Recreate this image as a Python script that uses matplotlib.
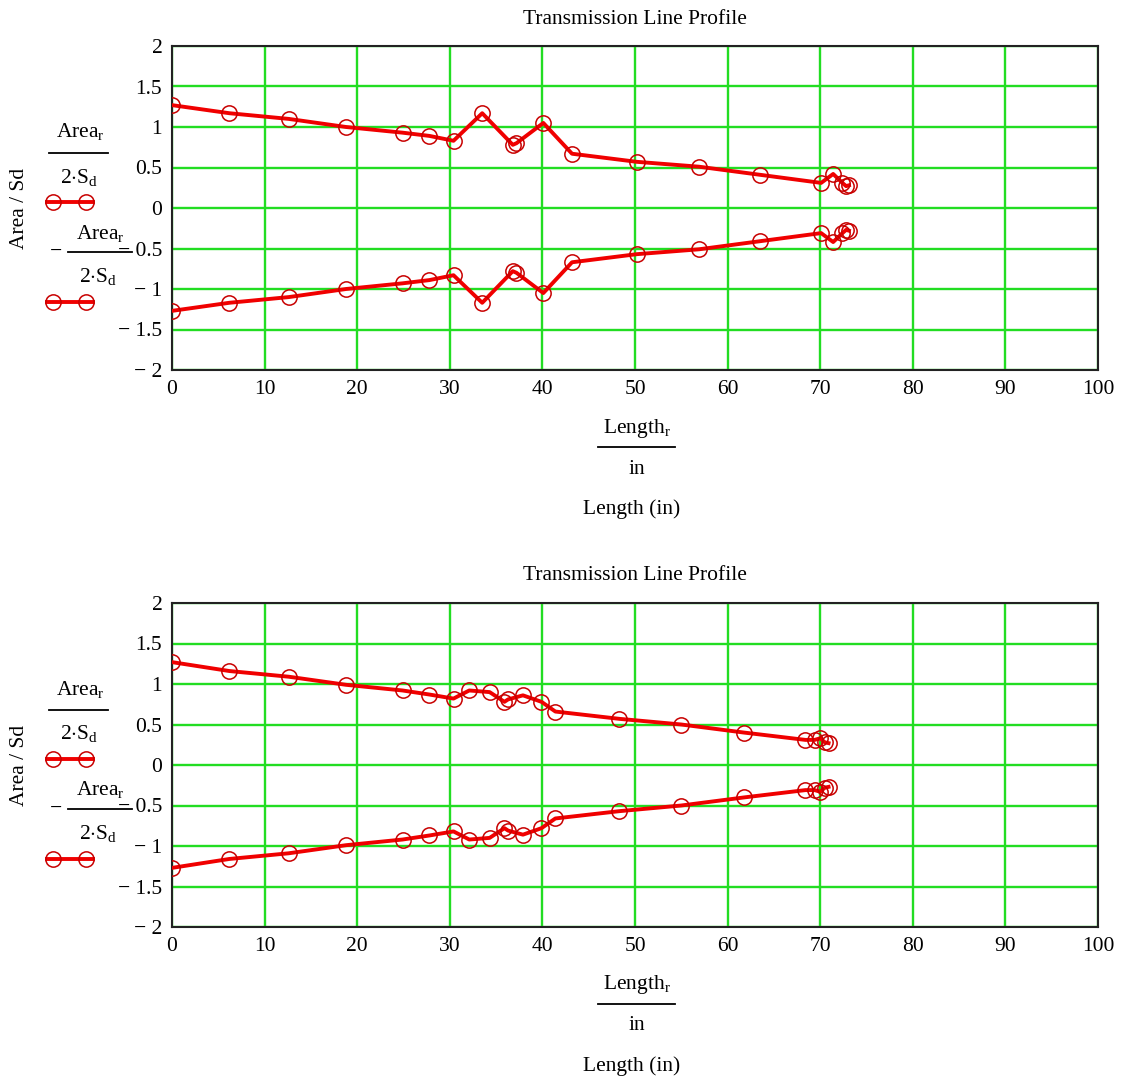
import matplotlib
matplotlib.use("Agg")
import matplotlib.pyplot as plt
from matplotlib.lines import Line2D
import numpy as np

plt.rcParams["font.family"] = ["Liberation Serif", "DejaVu Serif"]
plt.rcParams["mathtext.fontset"] = "custom"
plt.rcParams["mathtext.rm"] = "Liberation Serif"
plt.rcParams["mathtext.it"] = "Liberation Serif:italic"

# upper profile (Area_r / 2 Sd) vs Length_r (in); lower trace is its negative
length_a = [0, 6.2, 12.6, 18.8, 24.9, 27.8, 30.4, 33.5, 36.8, 37.2, 40.1, 43.2,
            50.2, 56.9, 63.5, 70.1, 71.4, 72.4, 72.8, 73.1]
area_a = [1.27, 1.17, 1.10, 1.00, 0.93, 0.89, 0.83, 1.17, 0.78, 0.80, 1.05, 0.67,
          0.57, 0.51, 0.41, 0.31, 0.42, 0.31, 0.27, 0.28]

length_b = [0, 6.2, 12.6, 18.8, 24.9, 27.8, 30.4, 32.1, 34.3, 35.9, 36.3, 37.9,
            39.9, 41.4, 48.3, 55.0, 61.8, 68.4, 69.4, 70.0, 70.5, 70.9]
area_b = [1.27, 1.16, 1.09, 0.99, 0.92, 0.87, 0.82, 0.92, 0.90, 0.78, 0.81, 0.86,
          0.78, 0.66, 0.57, 0.50, 0.40, 0.31, 0.31, 0.33, 0.28, 0.27]

x_ticks = list(range(0, 101, 10))
y_ticks = [2, 1.5, 1, 0.5, 0, -0.5, -1, -1.5, -2]
y_labels = ["2", "1.5", "1", "0.5", "0", "\u2212 0.5", "\u2212 1", "\u2212 1.5", "\u2212 2"]

W, H = 1125, 1085
fig = plt.figure(figsize=(W / 100, H / 100), dpi=100)

LINE = "#f00000"
MARK = "#c80000"
GRID = "#22dd22"
FS = 15.5


def fx(px):
    return px / W


def fy(py):
    return 1 - py / H


def sample(y):
    fig.add_artist(Line2D([fx(47), fx(93)], [fy(y), fy(y)], color=LINE, lw=2.8,
                          transform=fig.transFigure))
    fig.add_artist(Line2D([fx(53), fx(86)], [fy(y), fy(y)], ls="none", marker="o",
                          ms=11, mfc="none", mec=MARK, mew=1.1,
                          transform=fig.transFigure))


def bar(x0, x1, y):
    fig.add_artist(Line2D([fx(x0), fx(x1)], [fy(y), fy(y)], color="black", lw=1.3,
                          transform=fig.transFigure))


def panel(top, xs, ys):
    ax = fig.add_axes([fx(172), fy(top + 324), fx(1098) - fx(172), fy(top) - fy(top + 324)])
    xs = np.array(xs)
    ys = np.array(ys)
    for sgn in (1, -1):
        ax.plot(xs, sgn * ys, color=LINE, lw=2.8, zorder=3)
        ax.plot(xs, sgn * ys, ls="none", marker="o", ms=11, mfc="none",
                mec=MARK, mew=1.1, zorder=4)
    ax.set_xlim(0, 100)
    ax.set_ylim(-2, 2)
    ax.set_xticks(x_ticks)
    ax.set_yticks(y_ticks)
    ax.set_yticklabels(y_labels)
    ax.tick_params(length=0, labelsize=FS, pad=7)
    ax.grid(True, color=GRID, lw=1.7)
    for s in ax.spines.values():
        s.set_color("#222222")
        s.set_linewidth(1.5)
    ax.set_axisbelow(True)

    fig.text(fx(635), fy(top - 27), "Transmission Line Profile", ha="center",
             va="center", fontsize=FS)
    fig.text(fx(20), fy(top + 162), "Area / Sd", rotation=90, ha="center",
             va="center", fontsize=FS)

    # legend block
    fig.text(fx(80), fy(top + 86), r"Area$_\mathrm{r}$", ha="center", va="center", fontsize=FS)
    bar(49, 108, top + 107)
    fig.text(fx(79), fy(top + 131), r"2$\cdot$S$_\mathrm{d}$", ha="center", va="center", fontsize=FS)
    sample(top + 156)
    fig.text(fx(56), fy(top + 206), "\u2212", ha="center", va="center", fontsize=FS)
    fig.text(fx(100), fy(top + 187), r"Area$_\mathrm{r}$", ha="center", va="center", fontsize=FS)
    bar(68, 132, top + 206)
    fig.text(fx(98), fy(top + 231), r"2$\cdot$S$_\mathrm{d}$", ha="center", va="center", fontsize=FS)
    sample(top + 256)

    # x label block
    fig.text(fx(637), fy(top + 382), r"Length$_\mathrm{r}$", ha="center", va="center", fontsize=FS)
    bar(598, 675, top + 401)
    fig.text(fx(637), fy(top + 423), "in", ha="center", va="center", fontsize=FS)
    fig.text(fx(632), fy(top + 463), "Length (in)", ha="center", va="center", fontsize=FS)
    return ax


panel(46, length_a, area_a)
panel(603, length_b, area_b)

fig.savefig("out.png", dpi=100, facecolor="white")
